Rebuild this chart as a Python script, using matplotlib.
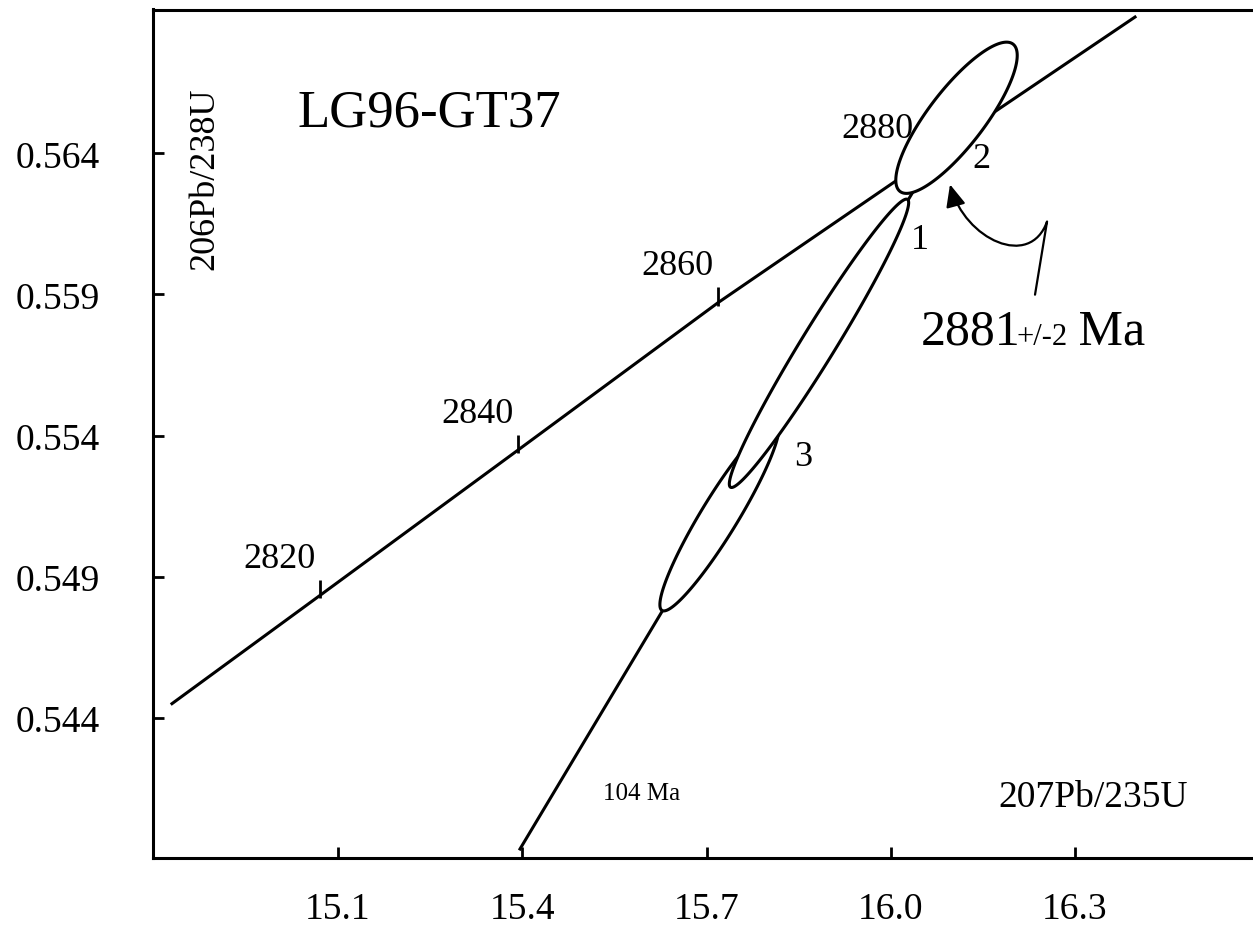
import numpy as np
import matplotlib
matplotlib.use('Agg')
import matplotlib.pyplot as plt
from matplotlib.patches import Polygon, FancyArrowPatch
from matplotlib.path import Path

matplotlib.rcParams.update({'font.family': 'Liberation Serif', 'font.size': 26})

# concordia trace (207Pb/235U, 206Pb/238U)
conc_x = [14.8297, 15.0707, 15.3931, 15.7187, 16.0118, 16.0443, 16.1583, 16.3976]
conc_y = [0.544497, 0.548334, 0.553485, 0.558707, 0.563076, 0.563574, 0.565314, 0.568831]

# age marks along the concordia (Ma)
tick_age = [2820, 2840, 2860, 2880]
tick_x = [15.0707, 15.3931, 15.7187, 16.0443]
tick_y = [0.548334, 0.553485, 0.558707, 0.563574]

# discordia, 104 Ma lower end up to the upper intercept
disc_x = [15.3963, 16.0736]
disc_y = [0.539346, 0.5640]

# zircon analyses: 207/235, sigma, 206/238, sigma, rho
spot = ['3', '1', '2']
ratio75 = [15.7211, 15.8831, 16.107]
sig75 = [0.09705, 0.14600, 0.09884]
ratio68 = [0.551140, 0.557268, 0.565261]
sig68 = [0.003356, 0.005110, 0.00268]
rho = [0.933, 0.975, 0.824]
spot_lx = [15.8571, 16.0476, 16.1469]
spot_ly = [0.552952, 0.560661, 0.563503]

xticks = [15.1, 15.4, 15.7, 16.0, 16.3]
yticks = [0.544, 0.549, 0.554, 0.559, 0.564]


def ellipse_outline(x, sx, y, sy, r, n=200):
    cov = np.array([[sx * sx, r * sx * sy], [r * sx * sy, sy * sy]])
    L = np.linalg.cholesky(cov)
    t = np.linspace(0, 2 * np.pi, n)
    pts = L @ np.vstack([np.cos(t), np.sin(t)])
    return np.column_stack([x + pts[0], y + pts[1]])


fig = plt.figure(figsize=(12.53, 9.28), dpi=100)
ax = fig.add_axes([153 / 1253, 69 / 928, 1100 / 1253, 848.5 / 928])

ax.plot(conc_x, conc_y, color='k', lw=2.2, zorder=1)
ax.plot(disc_x, disc_y, color='k', lw=2.2, zorder=1)
ax.vlines(tick_x, np.array(tick_y) - 0.0001, np.array(tick_y) + 0.00055,
          color='k', lw=2, zorder=1)
for age, tx, ty in zip(tick_age, tick_x, tick_y):
    ax.annotate(str(age), (tx, ty), xytext=(-3, 20.5), textcoords='offset points',
                ha='right', va='baseline', fontsize=26, zorder=5)

for i in range(len(spot)):
    pts = ellipse_outline(ratio75[i], sig75[i], ratio68[i], sig68[i], rho[i])
    ax.add_patch(Polygon(pts, closed=True, facecolor='white', edgecolor='k',
                         lw=2.2, zorder=2 + i))
    ax.text(spot_lx[i], spot_ly[i], spot[i], ha='center', va='baseline',
            fontsize=26, zorder=6)

# curly pointer to the upper intercept
arrow_path = Path([(16.2348, 0.558991), (16.2544, 0.561584),
                   (16.2267, 0.559879), (16.1208, 0.560945), (16.0964, 0.562899)],
                  [Path.MOVETO, Path.LINETO, Path.CURVE4, Path.CURVE4, Path.CURVE4])
ax.add_patch(FancyArrowPatch(path=arrow_path, arrowstyle='-|>,head_length=0.9,head_width=0.4',
                             mutation_scale=15, color='k', lw=1.6, zorder=6))

# age annotation, with the error in smaller type
age_x, age_y = 16.049, 0.55725
t1 = ax.text(age_x, age_y, '2881', fontsize=36, ha='left', va='baseline')
fig.canvas.draw()
inv = ax.transData.inverted()
x_end = inv.transform((t1.get_window_extent().x1, 0))[0]
t2 = ax.text(x_end, age_y, '+/-2', fontsize=22, ha='left', va='baseline')
fig.canvas.draw()
x_end = inv.transform((t2.get_window_extent().x1, 0))[0]
ax.text(x_end, age_y, ' Ma', fontsize=36, ha='left', va='baseline')

ax.text(0.1318, 0.8627, 'LG96-GT37', transform=ax.transAxes, fontsize=38,
        ha='left', va='baseline')
ax.text(0.0473, 0.8014, '206Pb/238U', transform=ax.transAxes, fontsize=26,
        rotation=90, ha='center', va='center')
ax.text(0.855, 0.0613, '207Pb/235U', transform=ax.transAxes, fontsize=27,
        ha='center', va='baseline')
ax.text(0.4445, 0.0695, '104 Ma', transform=ax.transAxes, fontsize=18,
        ha='center', va='baseline')

ax.set_xlim(14.7988, 16.5897)
ax.set_ylim(0.539027, 0.569098)
ax.set_xticks(xticks)
ax.set_xticklabels(['%.1f' % v for v in xticks])
ax.set_yticks(yticks)
ax.set_yticklabels(['%.3f' % v for v in yticks])
ax.tick_params(direction='in', length=8, width=2, labelsize=27)
ax.tick_params(axis='x', pad=24)
ax.tick_params(axis='y', pad=38)
for side in ['left', 'bottom', 'top']:
    ax.spines[side].set_linewidth(2.2)
ax.spines['right'].set_visible(False)

fig.savefig('out.png', dpi=100)
